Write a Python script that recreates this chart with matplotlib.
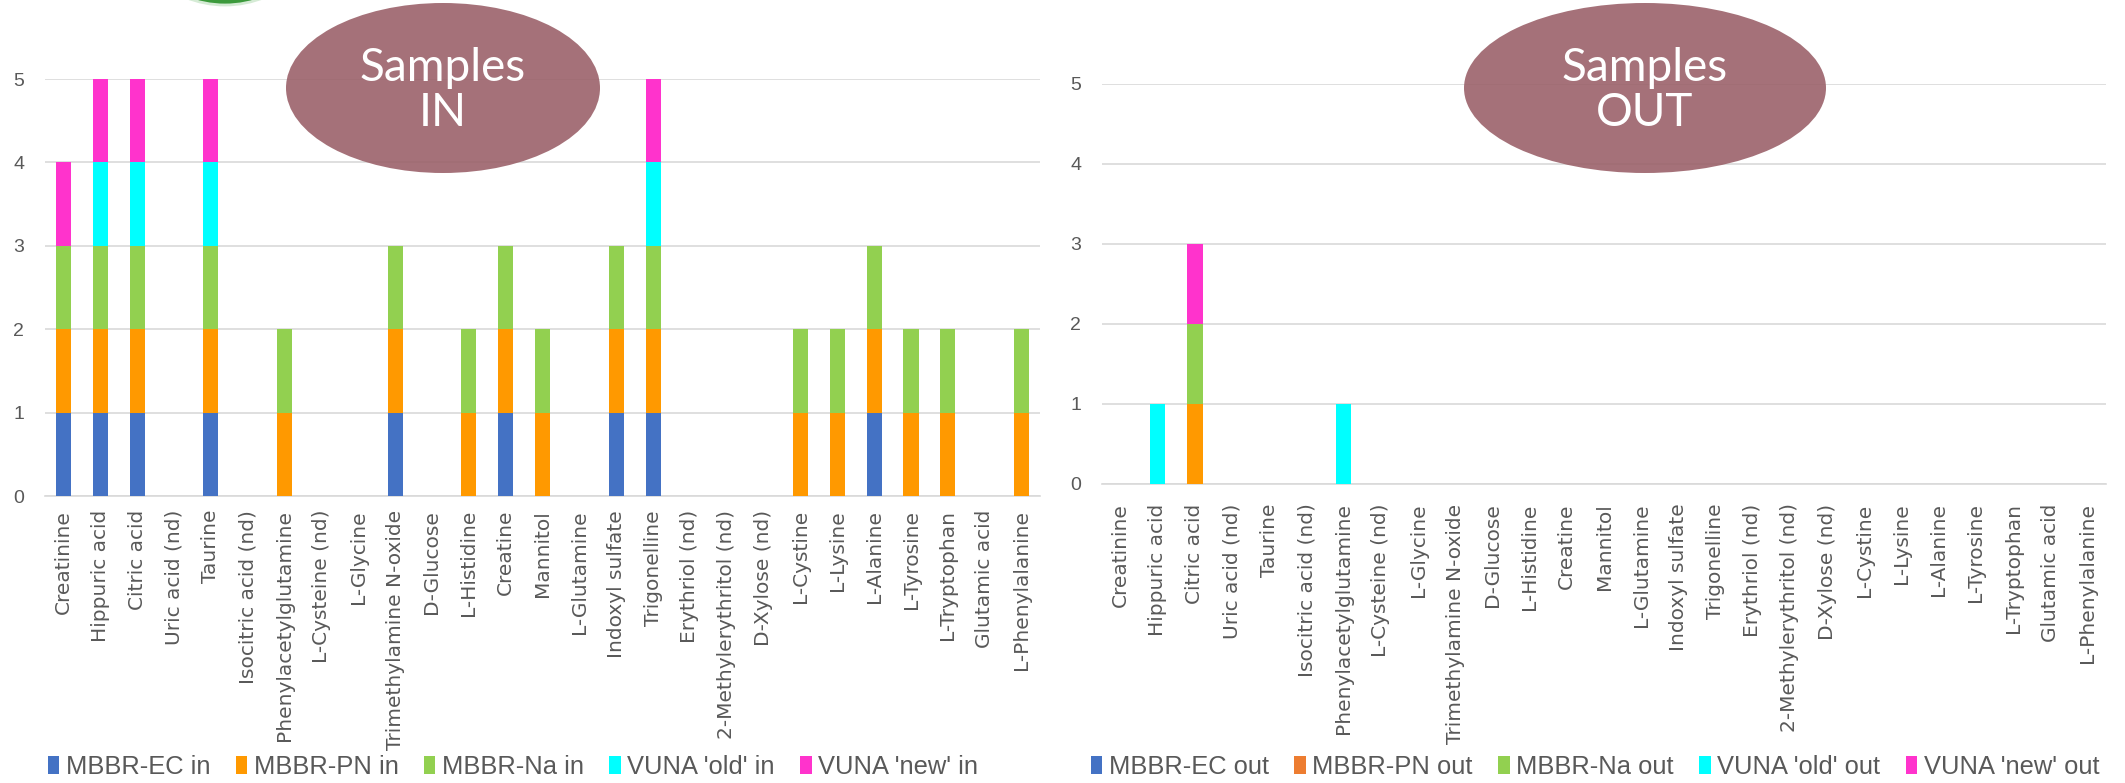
import matplotlib
matplotlib.use("Agg")
import matplotlib.pyplot as plt
import numpy as np
from matplotlib.patches import Ellipse, Patch

compounds = ["Creatinine", "Hippuric acid", "Citric acid", "Uric acid (nd)", "Taurine",
             "Isocitric acid (nd)", "Phenylacetylglutamine", "L-Cysteine (nd)", "L-Glycine",
             "Trimethylamine N-oxide", "D-Glucose", "L-Histidine", "Creatine", "Mannitol",
             "L-Glutamine", "Indoxyl sulfate", "Trigonelline", "Erythriol (nd)",
             "2-Methylerythritol (nd)", "D-Xylose (nd)", "L-Cystine", "L-Lysine", "L-Alanine",
             "L-Tyrosine", "L-Tryptophan", "Glutamic acid", "L-Phenylalanine"]

# detections per compound, influent samples
in_ec  = [1, 1, 1, 0, 1, 0, 0, 0, 0, 1, 0, 0, 1, 0, 0, 1, 1, 0, 0, 0, 0, 0, 1, 0, 0, 0, 0]
in_pn  = [1, 1, 1, 0, 1, 0, 1, 0, 0, 1, 0, 1, 1, 1, 0, 1, 1, 0, 0, 0, 1, 1, 1, 1, 1, 0, 1]
in_na  = [1, 1, 1, 0, 1, 0, 1, 0, 0, 1, 0, 1, 1, 1, 0, 1, 1, 0, 0, 0, 1, 1, 1, 1, 1, 0, 1]
in_old = [0, 1, 1, 0, 1, 0, 0, 0, 0, 0, 0, 0, 0, 0, 0, 0, 1, 0, 0, 0, 0, 0, 0, 0, 0, 0, 0]
in_new = [1, 1, 1, 0, 1, 0, 0, 0, 0, 0, 0, 0, 0, 0, 0, 0, 1, 0, 0, 0, 0, 0, 0, 0, 0, 0, 0]

# detections per compound, effluent samples
out_ec  = [0] * 27
out_pn  = [0, 0, 1, 0, 0, 0, 0, 0, 0, 0, 0, 0, 0, 0, 0, 0, 0, 0, 0, 0, 0, 0, 0, 0, 0, 0, 0]
out_na  = [0, 0, 1, 0, 0, 0, 0, 0, 0, 0, 0, 0, 0, 0, 0, 0, 0, 0, 0, 0, 0, 0, 0, 0, 0, 0, 0]
out_old = [0, 1, 0, 0, 0, 0, 1, 0, 0, 0, 0, 0, 0, 0, 0, 0, 0, 0, 0, 0, 0, 0, 0, 0, 0, 0, 0]
out_new = [0, 0, 1, 0, 0, 0, 0, 0, 0, 0, 0, 0, 0, 0, 0, 0, 0, 0, 0, 0, 0, 0, 0, 0, 0, 0, 0]

in_labels = ["MBBR-EC in", "MBBR-PN in", "MBBR-Na in", "VUNA 'old' in", "VUNA 'new' in"]
out_labels = ["MBBR-EC out", "MBBR-PN out", "MBBR-Na out", "VUNA 'old' out", "VUNA 'new' out"]

bar_colors = ["#4472C4", "#FF9900", "#92D050", "#00FFFF", "#FF33CC"]
out_key_colors = ["#4472C4", "#ED7D31", "#92D050", "#00FFFF", "#FF33CC"]

W, H = 2125, 783
grey = "#595959"
grid = "#D9D9D9"

fig = plt.figure(figsize=(W / 100, H / 100), dpi=100)


def px_axes(x0, x1, ytop, ybot):
    return fig.add_axes([x0 / W, 1 - ybot / H, (x1 - x0) / W, (ybot - ytop) / H])


def stacked(ax, series, label_pad):
    x = np.arange(len(compounds))
    bottom = np.zeros(len(compounds))
    for vals, c in zip(series, bar_colors):
        vals = np.array(vals, dtype=float)
        ax.bar(x, vals, width=0.41, bottom=bottom, color=c, linewidth=0, zorder=3)
        bottom += vals
    ax.set_xlim(-0.5, len(compounds) - 0.5)
    ax.set_ylim(0, 5)
    ax.set_yticks(range(6))
    ax.set_xticks(x)
    ax.set_xticklabels(compounds, rotation=90, family="DejaVu Sans", fontsize=14.5, color=grey)
    for t in ax.get_yticklabels():
        t.set_family("Liberation Sans")
        t.set_fontsize(14)
        t.set_color(grey)
    ax.tick_params(axis="both", length=0)
    ax.tick_params(axis="x", pad=label_pad)
    ax.tick_params(axis="y", pad=15)
    ax.grid(axis="y", color=grid, linewidth=1.2, zorder=0)
    for s in ["top", "left", "right"]:
        ax.spines[s].set_visible(False)
    ax.spines["bottom"].set_color(grid)
    ax.spines["bottom"].set_linewidth(1.2)
    ax.set_facecolor("none")


ax_in = px_axes(45, 1040, 79, 496)
stacked(ax_in, [in_ec, in_pn, in_na, in_old, in_new], 10)

ax_out = px_axes(1102, 2106, 84, 484)
stacked(ax_out, [out_ec, out_pn, out_na, out_old, out_new], 14)


def key(labels, colors, cx):
    handles = [Patch(facecolor=c, edgecolor="none", label=l) for l, c in zip(labels, colors)]
    leg = fig.legend(handles=handles, loc="center", ncol=5, frameon=False,
                     bbox_to_anchor=(cx / W, 1 - 767 / H),
                     prop={"family": "Liberation Sans", "size": 18.4},
                     handlelength=0.45, handleheight=0.75, handletextpad=0.25,
                     columnspacing=1.0, borderpad=0)
    for t in leg.get_texts():
        t.set_color(grey)


key(in_labels, bar_colors, 513)
key(out_labels, out_key_colors, 1595)

# green shape peeking in at the top edge
fig.add_artist(Ellipse((225 / W, 1 + 100 / H), 210 / W, 210 / H, transform=fig.transFigure,
                       facecolor="#3C9A3C", edgecolor="#D5EBD5", linewidth=2, zorder=5))

# "Samples IN" / "Samples OUT" badges
for cx, w, word in [(443, 314, "IN"), (1645, 362, "OUT")]:
    fig.add_artist(Ellipse((cx / W, 1 - 88 / H), w / W, 170 / H, transform=fig.transFigure,
                           facecolor="#9B626A", edgecolor="none", alpha=0.9, zorder=5))
    fig.text(cx / W, 1 - 68 / H, "Samples", ha="center", va="center", color="white",
             family="Lato", fontsize=33, zorder=6)
    fig.text(cx / W, 1 - 113 / H, word, ha="center", va="center", color="white",
             family="Lato", fontsize=33, zorder=6)

fig.savefig("out.png", dpi=100)
